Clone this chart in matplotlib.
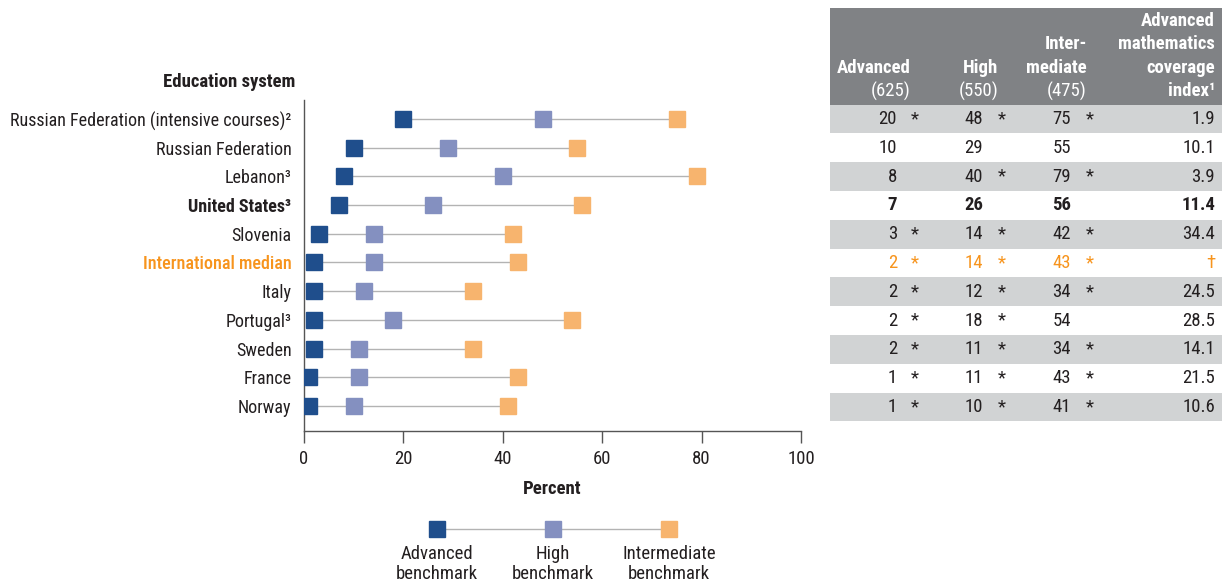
import matplotlib
matplotlib.use("Agg")
import matplotlib.pyplot as plt
from matplotlib import font_manager
from matplotlib.patches import Rectangle

avail = {f.name for f in font_manager.fontManager.ttflist}
FONT = next((f for f in ["Roboto Condensed", "Liberation Sans Narrow", "Liberation Sans", "DejaVu Sans"] if f in avail), "DejaVu Sans")
plt.rcParams['font.family'] = [FONT, 'DejaVu Sans']

systems = ["Russian Federation (intensive courses)²", "Russian Federation", "Lebanon³",
           "United States³", "Slovenia", "International median", "Italy", "Portugal³",
           "Sweden", "France", "Norway"]
advanced = [20, 10, 8, 7, 3, 2, 2, 2, 2, 1, 1]
high = [48, 29, 40, 26, 14, 14, 12, 18, 11, 11, 10]
intermediate = [75, 55, 79, 56, 42, 43, 34, 54, 34, 43, 41]
adv_sig = [1, 0, 0, 0, 1, 1, 1, 1, 1, 1, 1]
high_sig = [1, 0, 1, 0, 1, 1, 1, 1, 1, 1, 1]
int_sig = [1, 0, 1, 0, 1, 1, 1, 0, 1, 1, 1]
coverage = ["1.9", "10.1", "3.9", "11.4", "34.4", "†", "24.5", "28.5", "14.1", "21.5", "10.6"]
xticks = [0, 20, 40, 60, 80, 100]

C_ADV = "#1f4e8c"
C_HIGH = "#8490c0"
C_INT = "#f7b46e"
C_ORANGE = "#f7941d"
C_TEXT = "#231f20"
C_LINE = "#b3b3b3"
C_HEAD = "#808285"
C_BAND = "#d1d3d4"

W, H = 1225, 587
fig = plt.figure(figsize=(W / 100, H / 100), dpi=100)

ov = fig.add_axes([0, 0, 1, 1], zorder=0)
ov.set_xlim(0, W)
ov.set_ylim(H, 0)
ov.axis("off")

ax = fig.add_axes([304 / W, 156 / H, 497 / W, 331 / H], zorder=1)
ax.patch.set_alpha(0)
n = len(systems)
ys = list(range(n))
for i in ys:
    ax.plot([advanced[i], intermediate[i]], [i, i], color=C_LINE, lw=1, zorder=1)
ax.plot(advanced, ys, 's', color=C_ADV, ms=11, zorder=3, ls='none')
ax.plot(high, ys, 's', color=C_HIGH, ms=11, zorder=3, ls='none')
ax.plot(intermediate, ys, 's', color=C_INT, ms=11, zorder=3, ls='none')
ax.set_xlim(0, 100)
ax.set_ylim(10.87, -0.66)
ax.set_xticks(xticks)
ax.set_xticklabels([str(t) for t in xticks], fontsize=13.5, color=C_TEXT)
ax.set_yticks(ys)
ax.set_yticklabels(systems, fontsize=13, color=C_TEXT)
ax.tick_params(axis='y', length=0, pad=9)
ax.tick_params(axis='x', length=8.5, width=1, color="#555555", pad=5)
for lab in ax.get_yticklabels():
    if lab.get_text().startswith("United States"):
        lab.set_fontweight("bold")
    if lab.get_text() == "International median":
        lab.set_color(C_ORANGE)
        lab.set_fontweight("medium")
for s in ["top", "right"]:
    ax.spines[s].set_visible(False)
for s in ["left", "bottom"]:
    ax.spines[s].set_color("#555555")
    ax.spines[s].set_linewidth(1)
ax.set_xlabel("Percent", fontsize=13.5, fontweight="bold", color=C_TEXT, labelpad=9)
ov.text(295, 82, "Education system", ha="right", va="center", fontsize=13.5,
        fontweight="bold", color=C_TEXT)

# table
TX0, TX1 = 830, 1222
row0, step = 119, 28.8
ov.add_patch(Rectangle((TX0, 8), TX1 - TX0, row0 - step / 2 - 8, color=C_HEAD, lw=0))
hdr_c = 91
lh = 23.3
hk = dict(fontsize=13.5, color="white", fontweight="bold", va="center", ha="right")
nk = dict(fontsize=13.5, color="white", va="center", ha="right")
ov.text(911, hdr_c - lh, "Advanced", **hk)
ov.text(911, hdr_c, "(625)", **nk)
ov.text(998, hdr_c - lh, "High", **hk)
ov.text(998, hdr_c, "(550)", **nk)
ov.text(1087, hdr_c - 2 * lh, "Inter-", **hk)
ov.text(1087, hdr_c - lh, "mediate", **hk)
ov.text(1087, hdr_c, "(475)", **nk)
for k, t in enumerate(["Advanced", "mathematics", "coverage", "index¹"]):
    ov.text(1215, hdr_c - (3 - k) * lh, t, **hk)

for i in range(n):
    y = row0 + i * step
    if i % 2 == 0:
        ov.add_patch(Rectangle((TX0, y - step / 2), TX1 - TX0, step, color=C_BAND, lw=0))
    col = C_ORANGE if i == 5 else C_TEXT
    wt = "bold" if i == 3 else "normal"
    tk = dict(fontsize=13.5, color=col, fontweight=wt, va="center", ha="right")
    ov.text(897, y, str(advanced[i]), **tk)
    ov.text(983, y, str(high[i]), **tk)
    ov.text(1071, y, str(intermediate[i]), **tk)
    ov.text(1215, y, coverage[i], **tk)
    sk = dict(fontsize=13.5, color=col, va="center", ha="center")
    if adv_sig[i]:
        ov.text(915, y, "*", **sk)
    if high_sig[i]:
        ov.text(1002, y, "*", **sk)
    if int_sig[i]:
        ov.text(1090, y, "*", **sk)

# legend
leg_x = [437, 553, 669]
leg_c = [C_ADV, C_HIGH, C_INT]
leg_l = ["Advanced\nbenchmark", "High\nbenchmark", "Intermediate\nbenchmark"]
ov.plot([leg_x[0], leg_x[-1]], [529, 529], color=C_LINE, lw=1, zorder=1)
for x, c, l in zip(leg_x, leg_c, leg_l):
    ov.plot([x], [529], 's', color=c, ms=11, zorder=3)
    ov.text(x, 564, l, ha="center", va="center", fontsize=13.5, color=C_TEXT, linespacing=1.1)

fig.savefig("out.png", dpi=100)
